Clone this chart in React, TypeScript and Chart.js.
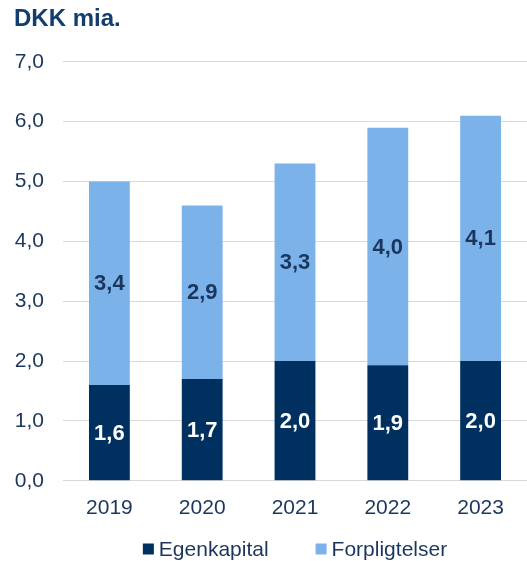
import { useEffect, useRef } from "react";
import { Chart, registerables } from "chart.js";

Chart.register(...registerables);

const categories = ["2019", "2020", "2021", "2022", "2023"];
const egenkapital = [1.6, 1.7, 2.0, 1.93, 2.0];
const forpligtelser = [3.4, 2.9, 3.3, 3.97, 4.1];
const seriesNames = ["Egenkapital", "Forpligtelser"];
const titleText = "DKK mia.";
const yMin = 0;
const yMax = 7;
const yStep = 1;

const DARK = "#00305f";
const LIGHT = "#7cb2ea";
const TEXT = "#1b365d";
const FONT = "'Liberation Sans', Arial, sans-serif";

const fmt = (v: number) => v.toFixed(1).replace(".", ",");

const labelPlugin = {
  id: "barLabels",
  afterDatasetsDraw(chart: any) {
    const ctx = chart.ctx;
    ctx.save();
    ctx.font = `bold 22px ${FONT}`;
    ctx.textAlign = "center";
    ctx.textBaseline = "middle";
    chart.data.datasets.forEach((ds: any, di: number) => {
      const meta = chart.getDatasetMeta(di);
      meta.data.forEach((bar: any, i: number) => {
        const v = ds.data[i];
        const cy = (bar.y + bar.base) / 2;
        ctx.fillStyle = di === 0 ? "#ffffff" : TEXT;
        ctx.fillText(fmt(v), bar.x, cy + 1);
      });
    });
    ctx.restore();
  },
};

const legendPlugin = {
  id: "customLegend",
  afterDraw(chart: any) {
    const ctx = chart.ctx;
    const area = chart.chartArea;
    ctx.save();
    ctx.font = `21px ${FONT}`;
    ctx.textBaseline = "middle";
    ctx.textAlign = "left";
    const box = 11;
    const gapBoxText = 5;
    const gapItems = 47;
    const items = chart.data.datasets.map((ds: any) => ({
      label: ds.label,
      color: ds.backgroundColor,
      w: box + gapBoxText + ctx.measureText(ds.label).width,
    }));
    const total = items.reduce((s: number, it: any) => s + it.w, 0) + gapItems * (items.length - 1);
    let x = (area.left + area.right) / 2 - total / 2;
    const y = chart.height - 12;
    items.forEach((it: any) => {
      ctx.fillStyle = it.color;
      ctx.fillRect(x, y - box / 2, box, box);
      ctx.fillStyle = TEXT;
      ctx.fillText(it.label, x + box + gapBoxText, y + 1);
      x += it.w + gapItems;
    });
    ctx.restore();
  },
};

export default function App() {
  const ref = useRef<HTMLCanvasElement | null>(null);
  useEffect(() => {
    if (!ref.current) return;
    const chart = new Chart(ref.current, {
      type: "bar",
      data: {
        labels: categories,
        datasets: [
          {
            label: seriesNames[0],
            data: egenkapital,
            backgroundColor: DARK,
            categoryPercentage: 1,
            barPercentage: 0.44,
          },
          {
            label: seriesNames[1],
            data: forpligtelser,
            backgroundColor: LIGHT,
            categoryPercentage: 1,
            barPercentage: 0.44,
          },
        ],
      },
      options: {
        responsive: false,
        devicePixelRatio: 1,
        animation: false,
        layout: { padding: { left: 14, right: 0, top: 0, bottom: 33 } },
        plugins: {
          legend: { display: false },
          tooltip: { enabled: false },
          title: {
            display: true,
            text: titleText,
            align: "start",
            color: "#123d6e",
            font: { family: FONT, size: 24, weight: "bold" },
            padding: { top: 5, bottom: 28 },
          },
        },
        scales: {
          x: {
            stacked: true,
            grid: { display: false },
            border: { display: false },
            ticks: { color: TEXT, font: { family: FONT, size: 21 }, padding: 7 },
          },
          y: {
            stacked: true,
            min: yMin,
            max: yMax,
            grid: { color: "#d9d9d9", lineWidth: 1, drawTicks: false },
            border: { display: false },
            ticks: {
              stepSize: yStep,
              color: TEXT,
              font: { family: FONT, size: 21 },
              padding: 19,
              callback: (v: any) => fmt(Number(v)),
            },
            afterFit: (scale: any) => {
              scale.width = 49;
            },
          },
        },
      },
      plugins: [labelPlugin, legendPlugin],
    });
    return () => chart.destroy();
  }, []);
  return (
    <div style={{ position: "absolute", left: 0, top: 0, width: 527, height: 561, background: "#fff" }}>
      <canvas ref={ref} width={527} height={561} />
    </div>
  );
}
